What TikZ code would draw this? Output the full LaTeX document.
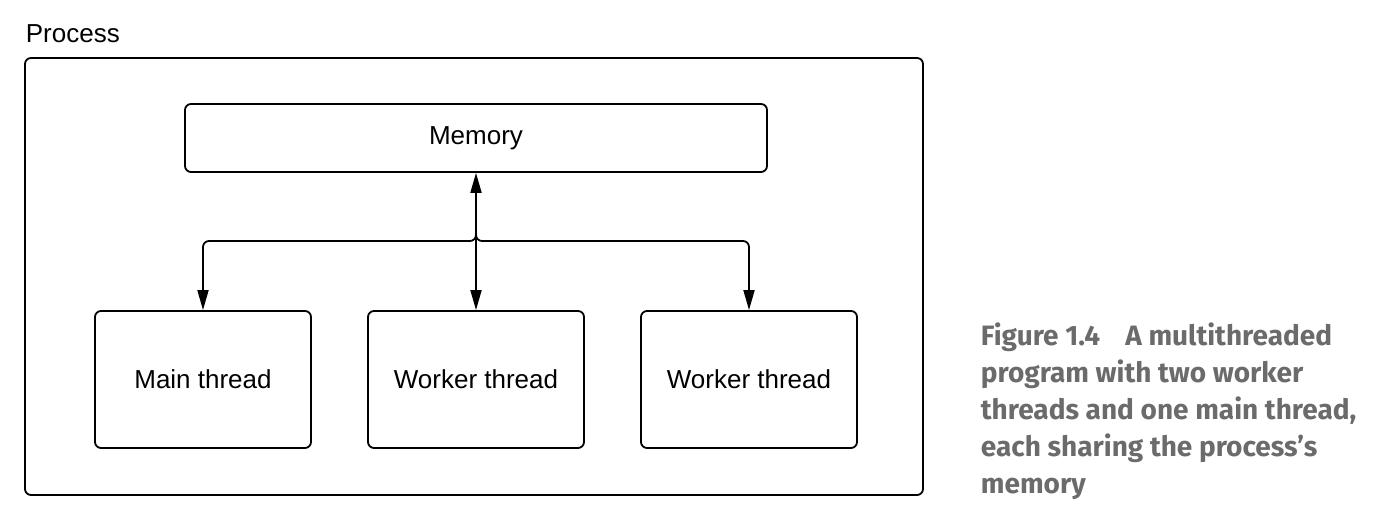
\documentclass[tikz,border=0pt]{standalone}
\usepackage{fontspec}
\setmainfont{Liberation Sans}
\newfontfamily\captionfont{Fira Sans}
\usetikzlibrary{arrows.meta}
\definecolor{capgray}{HTML}{6B6B6B}

\begin{document}
\begin{tikzpicture}[x=0.5pt, y=-0.5pt, line width=0.9pt,
    box/.style={draw, rounded corners=3pt, font=\fontsize{13}{15}\selectfont},
    thread/.style={box, minimum width=108pt, minimum height=68.5pt},
    link/.style={-{Triangle[width=5.5pt,length=10pt]}, rounded corners=3pt}]
      \useasboundingbox (0,0) rectangle (1398,522);

      % Outer process box with its label above
      \node[draw, rounded corners=3pt, minimum width=449pt, minimum height=218.5pt] (Proc) at (474,276.5) {};
      \node[anchor=base west, inner sep=0pt, font=\fontsize{13}{15}\selectfont] (ProcLabel) at (25,43) {Process};

      % Shared memory on top
      \node[box, minimum width=291pt, minimum height=34pt] (Mem) at (476,138) {Memory};

      % The three threads
      \node[thread] (Main) at (203,379.5) {Main thread};
      \node[thread] (W1) at (476,379.5) {Worker thread};
      \node[thread] (W2) at (749,379.5) {Worker thread};

      % Connect memory to each thread
      \coordinate (Split) at (476,225);
      \draw[{Triangle[width=5.5pt,length=10pt]}-{Triangle[width=5.5pt,length=10pt]}] (Mem) -- (W1);
      \draw[link] (Split) |- (Main.north |- 0,241) -- (Main.north);
      \draw[link] (Split) |- (W2.north |- 0,241) -- (W2.north);

      % Caption (anchored on its last line)
      \node[anchor=base west, inner sep=0pt, align=left, text=capgray,
            font=\captionfont\bfseries\fontsize{14}{18.5}\selectfont] (Cap) at (980,494)
        {Figure 1.4\hspace{0.9em}A multithreaded\\
         program with two worker\\
         threads and one main thread,\\
         each sharing the process’s\\
         memory};
    \end{tikzpicture}
\end{document}
